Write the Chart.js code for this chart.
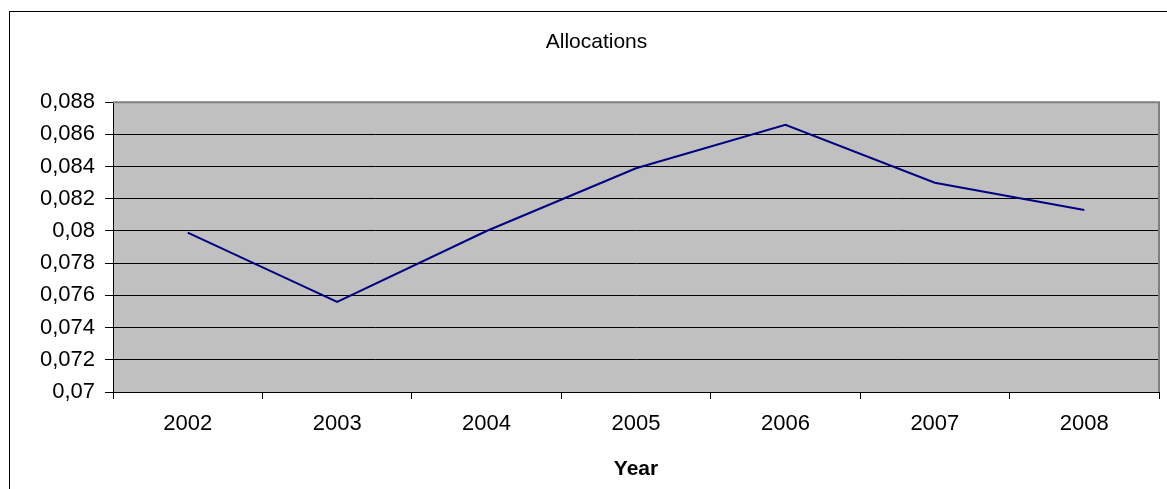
<!DOCTYPE html>
<html>
<head>
<meta charset="utf-8">
<title>Allocations</title>
<script src="https://cdn.jsdelivr.net/npm/chart.js@4"></script>
<style>
  html, body { margin: 0; padding: 0; background: #fff; }
  #wrap { width: 1167px; height: 489px; }
</style>
</head>
<body>
<div id="wrap"><canvas id="allocChart" width="1167" height="489"></canvas></div>
<script>
const years = ["2002", "2003", "2004", "2005", "2006", "2007", "2008"];
const allocations = [0.0799, 0.0756, 0.08, 0.0839, 0.0866, 0.083, 0.0813];
const yMin = 0.07;
const yMax = 0.088;
const yStep = 0.002;

const fontFamily = "'Liberation Sans', Arial, sans-serif";

// gray plot area + outer frame, like the old spreadsheet chart
const plotBackground = {
  id: "plotBackground",
  beforeDraw(chart) {
    const { ctx, chartArea } = chart;
    ctx.save();
    ctx.fillStyle = "#fff";
    ctx.fillRect(0, 0, chart.width, chart.height);
    ctx.fillStyle = "#c0c0c0";
    ctx.fillRect(chartArea.left, chartArea.top, chartArea.right - chartArea.left, chartArea.bottom - chartArea.top);
    ctx.strokeStyle = "#000";
    ctx.lineWidth = 1;
    ctx.strokeRect(9.5, 11.5, 1300, 700);
    ctx.restore();
  },
  beforeDatasetsDraw(chart) {
    const { ctx, chartArea } = chart;
    ctx.save();
    ctx.strokeStyle = "#808080";
    ctx.lineWidth = 2;
    ctx.beginPath();
    ctx.moveTo(chartArea.left, chartArea.top);
    ctx.lineTo(chartArea.right, chartArea.top);
    ctx.lineTo(chartArea.right, chartArea.bottom);
    ctx.stroke();
    ctx.restore();
  },
};

const ctx = document.getElementById("allocChart").getContext("2d");
new Chart(ctx, {
  type: "line",
  data: {
    labels: years,
    datasets: [
      {
        label: "Allocations",
        data: allocations,
        borderColor: "#000080",
        borderWidth: 2,
        pointRadius: 0,
        tension: 0,
        fill: false,
      },
    ],
  },
  options: {
    responsive: false,
    animation: false,
    layout: { padding: { left: 34, right: 8, top: 0, bottom: 0 } },
    plugins: {
      legend: { display: false },
      tooltip: { enabled: false },
      title: {
        display: true,
        text: "Allocations",
        color: "#000",
        font: { family: fontFamily, size: 21, weight: "normal" },
        padding: { top: 30, bottom: 47 },
      },
    },
    scales: {
      x: {
        offset: true,
        afterFit: (scale) => { scale.height = 97; },
        grid: {
          offset: true,
          drawOnChartArea: false,
          drawTicks: true,
          tickLength: 7,
          color: "#000",
        },
        border: { color: "#000", width: 1 },
        ticks: {
          color: "#000",
          padding: 12,
          font: { family: fontFamily, size: 22 },
          maxRotation: 0,
        },
        title: {
          display: true,
          text: "Year",
          color: "#000",
          font: { family: fontFamily, size: 21, weight: "bold" },
          padding: { top: 0, bottom: 7 },
        },
      },
      y: {
        min: yMin,
        max: yMax,
        afterFit: (scale) => { scale.width = 79; },
        grid: {
          color: (c) => (c.tick && Math.abs(c.tick.value - yMax) < 1e-9 ? "rgba(0,0,0,0)" : "#000"),
          tickColor: "#000",
          tickLength: 8,
          lineWidth: 1,
        },
        border: { color: "#000", width: 1 },
        ticks: {
          stepSize: yStep,
          color: "#000",
          padding: 10,
          font: { family: fontFamily, size: 22 },
          callback: (v) => String(Number(v.toFixed(4))).replace(".", ","),
        },
      },
    },
  },
  plugins: [plotBackground],
});
</script>
</body>
</html>
